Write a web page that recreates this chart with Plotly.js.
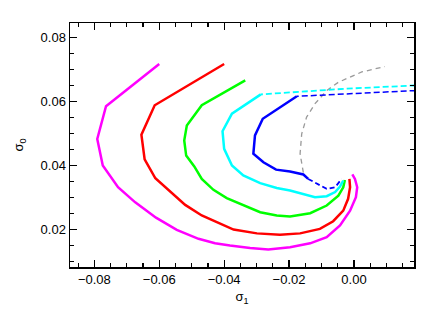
<!DOCTYPE html>
<html>
<head>
<meta charset="utf-8">
<script src="https://cdn.plot.ly/plotly-3.0.1.min.js"></script>
<style>html,body{margin:0;padding:0;background:#fff;}#chart{width:436px;height:312px;}</style>
</head>
<body>
<div id="chart"></div>
<script>
// Magenta contour
var magentaX = [-0.0600,-0.0764,-0.0791,-0.0774,-0.0727,-0.0674,-0.0610,-0.0546,-0.0479,-0.0428,-0.0382,-0.0320,-0.0264,-0.0197,-0.0135,-0.0084,-0.0043,-0.0012,0.0006,0.0010,0.0003,-0.0005];
var magentaY = [0.0717,0.0585,0.0483,0.0400,0.0332,0.0285,0.0237,0.0199,0.0171,0.0157,0.0150,0.0142,0.0138,0.0145,0.0157,0.0176,0.0213,0.0259,0.0301,0.0332,0.0358,0.0372];
// Red contour
var redX = [-0.0400,-0.0614,-0.0655,-0.0645,-0.0612,-0.0566,-0.0520,-0.0469,-0.0428,-0.0371,-0.0299,-0.0228,-0.0166,-0.0105,-0.0064,-0.0033,-0.0018,-0.0012,-0.0014];
var redY = [0.0717,0.0588,0.0496,0.0419,0.0360,0.0319,0.0277,0.0244,0.0226,0.0200,0.0188,0.0184,0.0188,0.0202,0.0226,0.0259,0.0296,0.0332,0.0358];
// Green contour
var greenX = [-0.0335,-0.0469,-0.0515,-0.0523,-0.0517,-0.0492,-0.0469,-0.0433,-0.0392,-0.0341,-0.0289,-0.0238,-0.0197,-0.0135,-0.0084,-0.0048,-0.0033,-0.0028];
var greenY = [0.0666,0.0588,0.0525,0.0478,0.0431,0.0397,0.0358,0.0324,0.0298,0.0275,0.0254,0.0244,0.0241,0.0251,0.0275,0.0306,0.0332,0.0355];
// Cyan contour (dashed and solid parts)
var cyanDashX = [0.0190,-0.0022,-0.0287];
var cyanDashY = [0.0650,0.0640,0.0622];
var cyanSolidX = [-0.0287,-0.0376,-0.0405,-0.0400,-0.0376,-0.0341,-0.0289,-0.0238,-0.0197,-0.0156,-0.0120,-0.0084,-0.0058,-0.0043,-0.0033];
var cyanSolidY = [0.0622,0.0562,0.0507,0.0452,0.0400,0.0369,0.0345,0.0330,0.0322,0.0312,0.0301,0.0304,0.0317,0.0334,0.0353];
// Blue contour (dashed, solid, dashed)
var blueDashTopX = [0.0190,-0.0176];
var blueDashTopY = [0.0634,0.0616];
var blueSolidX = [-0.0176,-0.0281,-0.0305,-0.0310,-0.0279,-0.0240,-0.0197,-0.0156,-0.0141];
var blueSolidY = [0.0616,0.0546,0.0494,0.0437,0.0410,0.0387,0.0381,0.0372,0.0358];
var blueDashBotX = [-0.0141,-0.0115,-0.0084,-0.0058,-0.0043,-0.0038];
var blueDashBotY = [0.0358,0.0343,0.0327,0.0332,0.0350,0.0358];
// Gray dashed arc
var grayX = [-0.0156,-0.0166,-0.0161,-0.0146,-0.0120,-0.0084,-0.0048,0.0024,0.0095];
var grayY = [0.0378,0.0437,0.0499,0.0551,0.0593,0.0634,0.0660,0.0692,0.0709];

var xTickVals = [-0.08,-0.06,-0.04,-0.02,0.00];
var xTickText = ['\u22120.08','\u22120.06','\u22120.04','\u22120.02','0.00'];
var yTickVals = [0.02,0.04,0.06,0.08];
var yTickText = ['0.02','0.04','0.06','0.08'];

function tr(x, y, color, dash, width) {
  return {x: x, y: y, type: 'scatter', mode: 'lines', hoverinfo: 'skip',
    line: {color: color, width: width || 2.5, dash: dash || 'solid', shape: 'linear'}};
}

var data = [
  tr(grayX, grayY, '#9a9a9a', '5px,4px', 1.3),
  tr(magentaX, magentaY, '#ff00ff'),
  tr(redX, redY, '#ff0000'),
  tr(greenX, greenY, '#00ff00'),
  tr(cyanDashX, cyanDashY, '#00ffff', '6px,3px', 1.8),
  tr(cyanSolidX, cyanSolidY, '#00ffff'),
  tr(blueDashTopX, blueDashTopY, '#0000ff', '6px,3px', 1.5),
  tr(blueSolidX, blueSolidY, '#0000ff'),
  tr(blueDashBotX, blueDashBotY, '#0000ff', '5px,3px', 1.8)
];

var axisCommon = {
  showgrid: false, zeroline: false, showline: true, linecolor: '#000', linewidth: 1.5,
  mirror: 'ticks', ticks: 'inside', ticklen: 7, tickwidth: 1.3, tickcolor: '#000',
  tickfont: {family: 'Liberation Sans, Arial, sans-serif', size: 13, color: '#000'}
};

var layout = {
  width: 436, height: 312,
  margin: {l: 70, r: 22, t: 23, b: 45},
  paper_bgcolor: '#fff', plot_bgcolor: '#fff',
  showlegend: false,
  xaxis: Object.assign({}, axisCommon, {
    range: [-0.0875, 0.0185],
    tickvals: xTickVals, ticktext: xTickText,
    minor: {dtick: 0.005, tick0: 0, ticks: 'inside', ticklen: 4, tickwidth: 1.2, tickcolor: '#000', showgrid: false},
    title: {text: '\u03c3<sub>1</sub>', font: {family: 'Liberation Sans, Arial, sans-serif', size: 13, color: '#000'}, standoff: 6}
  }),
  yaxis: Object.assign({}, axisCommon, {
    range: [0.0083, 0.0845],
    tickvals: yTickVals, ticktext: yTickText,
    minor: {dtick: 0.005, tick0: 0, ticks: 'inside', ticklen: 4, tickwidth: 1.2, tickcolor: '#000', showgrid: false},
    title: {text: '\u03c3<sub>0</sub>', font: {family: 'Liberation Sans, Arial, sans-serif', size: 13, color: '#000'}, standoff: 14}
  })
};

Plotly.newPlot('chart', data, layout, {staticPlot: true, displayModeBar: false});
</script>
</body>
</html>
